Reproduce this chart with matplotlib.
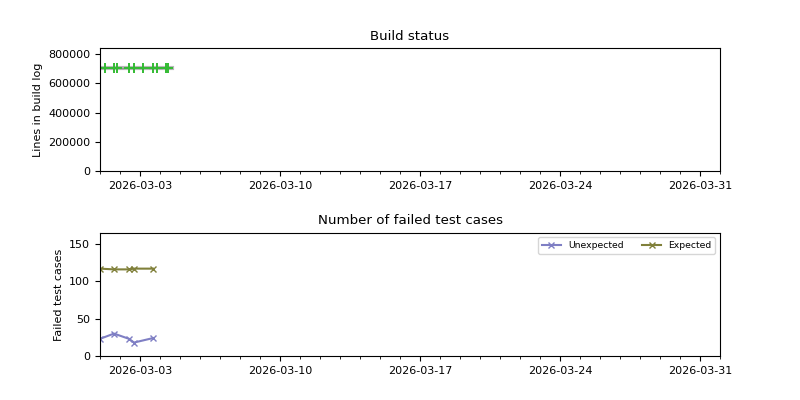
import datetime as dt
import numpy as np
import matplotlib
matplotlib.use('Agg')
import matplotlib.pyplot as plt
import matplotlib.dates as mdates

start = dt.datetime(2026, 3, 1)

# build log line counts (days after 2026-03-01)
log_days = [0.0, 0.25, 0.7, 0.83, 1.47, 1.68, 2.15, 2.63, 2.87, 3.3, 3.42, 3.6]
log_lines = [705000, 705000, 705000, 705000, 705000, 705000, 705000, 705000, 705000, 705000, 705000, 705000]
ok_days = [0.25, 0.7, 0.83, 1.47, 1.68, 2.15, 2.63, 2.87, 3.3, 3.42]
ok_lines = [705000, 705000, 705000, 705000, 705000, 705000, 705000, 705000, 705000, 705000]

# failed test cases
test_days = [0.0, 0.7, 1.45, 1.7, 2.65]
unexpected = [23, 30, 23, 18, 24]
expected = [117, 116, 116, 117, 117]

def to_dates(days):
    return [start + dt.timedelta(days=d) for d in days]

fig, (ax1, ax2) = plt.subplots(2, 1, figsize=(8, 4), dpi=100)
fig.subplots_adjust(left=0.125, right=0.9, top=0.88, bottom=0.11, hspace=0.5)

ax1.plot(to_dates(log_days), log_lines, color='#b8b8b8', lw=3)
ax1.plot(to_dates(log_days), log_lines, color='#909090', lw=1, ls=(0, (3, 4)))
ax1.plot(to_dates(ok_days), ok_lines, '+', color='#33bb33', ms=7, mew=1.4)
ax1.set_title('Build status', fontsize=9.6)
ax1.set_ylabel('Lines in build log', fontsize=8)
ax1.set_ylim(0, 840000)

ax2.plot(to_dates(test_days), unexpected, 'x-', color='#7f7fc4', ms=5, label='Unexpected')
ax2.plot(to_dates(test_days), expected, 'x-', color='#80803a', ms=5, label='Expected')
ax2.set_title('Number of failed test cases', fontsize=9.6)
ax2.set_ylabel('Failed test cases', fontsize=8)
ax2.set_ylim(0, 165)
ax2.legend(loc='upper right', ncol=2, fontsize=6.7)

for ax in (ax1, ax2):
    ax.set_xlim(start, dt.datetime(2026, 4, 1))
    ax.xaxis.set_major_locator(mdates.DayLocator(bymonthday=[3, 10, 17, 24, 31]))
    ax.xaxis.set_major_formatter(mdates.DateFormatter('%Y-%m-%d'))
    ax.xaxis.set_minor_locator(mdates.DayLocator())
    ax.tick_params(labelsize=8)

fig.savefig('out.png')
